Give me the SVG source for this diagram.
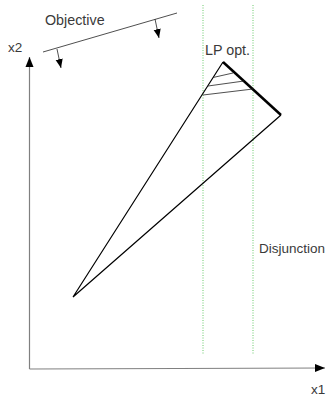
<svg xmlns="http://www.w3.org/2000/svg" width="330" height="396" viewBox="0 0 330 396">
<defs>
<style>
text{font-family:"Liberation Sans",Arial,sans-serif;font-size:13.5px;fill:#3a3a3a}
.big{font-size:14.3px}
.ax{stroke:#808080;stroke-width:1.2;fill:none}
.ln{stroke:#000;stroke-width:1.2;fill:none}
.thin{stroke:#222;stroke-width:0.8;fill:none}
.dis{stroke:#44bb44;stroke-width:0.8;stroke-dasharray:1,1.5;fill:none}
</style>
<marker id="ah" viewBox="0 0 10 10" refX="10" refY="5" markerWidth="10" markerHeight="10" markerUnits="userSpaceOnUse" orient="auto">
<path d="M0,1 L10,5 L0,9 Z" fill="#000"/>
</marker>
<marker id="sa" viewBox="0 0 10 10" refX="10" refY="5" markerWidth="9" markerHeight="9" markerUnits="userSpaceOnUse" orient="auto">
<path d="M0,1 L10,5 L0,9 Z" fill="#000"/>
</marker>
</defs>
<g id="axes">
<line class="ax" x1="29.5" y1="369" x2="29.5" y2="57" marker-end="url(#ah)"/>
<line class="ax" x1="29.5" y1="369" x2="325" y2="368" marker-end="url(#ah)"/>
<text x="8" y="52">x2</text>
<text x="311" y="394">x1</text>
</g>
<g id="objective">
<line class="thin" x1="43" y1="52" x2="177" y2="13"/>
<line class="thin" x1="57" y1="49" x2="61" y2="68" marker-end="url(#sa)"/>
<line class="thin" x1="155" y1="19" x2="159" y2="38" marker-end="url(#sa)"/>
<text class="big" x="45" y="25">Objective</text>
</g>
<g id="disjunction">
<line class="dis" x1="203" y1="5" x2="203" y2="354"/>
<line class="dis" x1="253" y1="5" x2="253" y2="354"/>
<text x="259" y="253">Disjunction</text>
</g>
<g id="polytope">
<polyline class="ln" points="223,62 73,297 281,115"/>
<line x1="223" y1="62" x2="281" y2="115" stroke="#000" stroke-width="2.5"/>
<line class="thin" x1="213" y1="77.5" x2="233" y2="73"/>
<line class="thin" x1="208" y1="86" x2="244" y2="81"/>
<line class="thin" x1="203" y1="95" x2="253" y2="89"/>
<text class="big" x="205" y="55">LP opt.</text>
</g>
</svg>
